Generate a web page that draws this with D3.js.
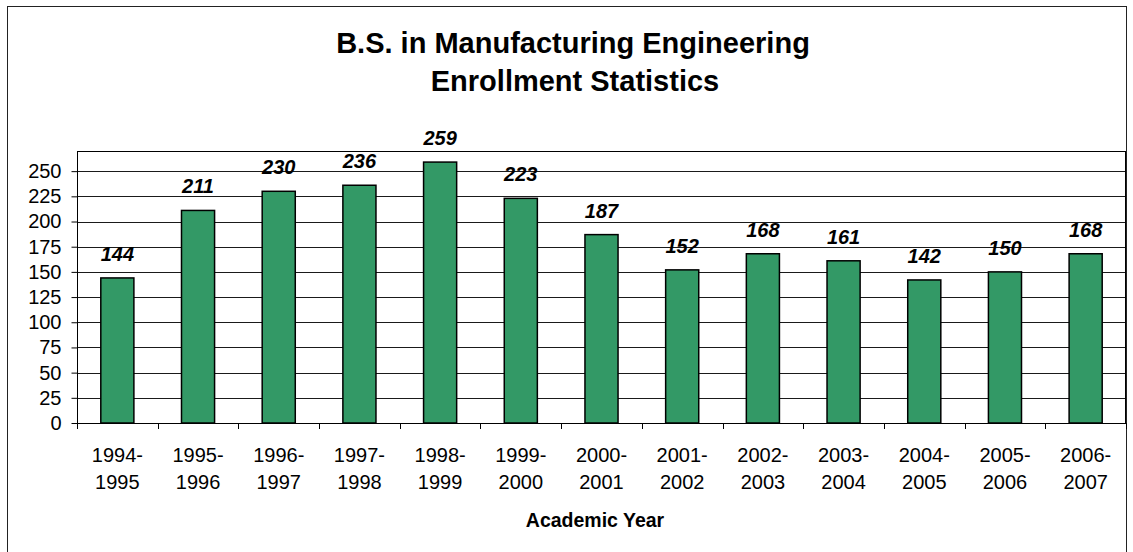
<!DOCTYPE html>
<html>
<head>
<meta charset="utf-8">
<script src="https://cdn.jsdelivr.net/npm/d3@7"></script>
<style>
  body { margin: 0; background: #fff; }
  text { font-family: "Liberation Sans", Arial, sans-serif; fill: #000; }
</style>
</head>
<body>
<div id="chart"></div>
<script>
// data
const years = ["1994-1995", "1995-1996", "1996-1997", "1997-1998", "1998-1999", "1999-2000",
  "2000-2001", "2001-2002", "2002-2003", "2003-2004", "2004-2005", "2005-2006", "2006-2007"];
const enrollment = [144, 211, 230, 236, 259, 223, 187, 152, 168, 161, 142, 150, 168];
const yTicks = [0, 25, 50, 75, 100, 125, 150, 175, 200, 225, 250];

function main() {
  const W = 1133, H = 552;
  const plot = {left: 77, right: 1126, top: 151, bottom: 423};

  const svg = d3.select("#chart")
    .append("svg")
    .attr("width", W)
    .attr("height", H);

  // outer chart border (bottom edge runs off the picture)
  svg.append("rect")
    .attr("x", 7.5).attr("y", 6.5)
    .attr("width", 1119).attr("height", 600)
    .attr("fill", "none")
    .attr("stroke", "#222");

  // title
  const title = svg.append("text")
    .attr("text-anchor", "middle")
    .attr("font-size", "29px")
    .attr("font-weight", "bold");
  title.append("tspan").attr("x", 573).attr("y", 53).text("B.S. in Manufacturing Engineering");
  title.append("tspan").attr("x", 575).attr("y", 91).text("Enrollment Statistics");

  const x = d3.scaleBand()
    .domain(years)
    .range([plot.left, plot.right])
    .paddingInner(0.59)
    .paddingOuter(0.295);

  const y = d3.scaleLinear()
    .domain([0, 270])
    .range([plot.bottom, plot.top]);

  // gridlines
  svg.append("g")
    .selectAll("line")
    .data(yTicks.filter(d => d > 0))
    .enter()
    .append("line")
    .attr("x1", plot.left).attr("x2", plot.right)
    .attr("y1", d => Math.round(y(d)) + 0.5)
    .attr("y2", d => Math.round(y(d)) + 0.5)
    .attr("stroke", "#1a1a1a")
    .attr("stroke-width", 1);

  // plot area frame
  svg.append("rect")
    .attr("x", plot.left + 0.5).attr("y", plot.top + 0.5)
    .attr("width", plot.right - plot.left - 1)
    .attr("height", plot.bottom - plot.top)
    .attr("fill", "none")
    .attr("stroke", "#000");

  // bars
  svg.append("g")
    .selectAll("rect")
    .data(enrollment)
    .enter()
    .append("rect")
    .attr("x", (d, i) => x(years[i]))
    .attr("y", d => y(d))
    .attr("width", x.bandwidth())
    .attr("height", d => y(0) - y(d))
    .attr("fill", "#339966")
    .attr("stroke", "#000")
    .attr("stroke-width", 1.5);

  // value labels
  svg.append("g")
    .selectAll("text")
    .data(enrollment)
    .enter()
    .append("text")
    .attr("x", (d, i) => x(years[i]) + x.bandwidth() / 2)
    .attr("y", d => y(d) - 17)
    .attr("text-anchor", "middle")
    .attr("font-size", "20px")
    .attr("font-weight", "bold")
    .attr("font-style", "italic")
    .text(d => d);

  // y axis
  const yAxis = svg.append("g")
    .attr("transform", `translate(${plot.left + 0.5},0)`)
    .call(d3.axisLeft(y).tickValues(yTicks).tickSize(6).tickPadding(10));
  yAxis.select(".domain").remove();
  yAxis.selectAll("line").attr("stroke", "#000");
  yAxis.selectAll("text")
    .attr("font-size", "20px")
    .attr("font-family", "Liberation Sans, Arial, sans-serif");

  // x axis: tick marks at category boundaries
  const xEdge = d3.scaleLinear().domain([0, years.length]).range([plot.left, plot.right]);
  svg.append("line")
    .attr("x1", plot.left).attr("x2", plot.right)
    .attr("y1", plot.bottom + 0.5).attr("y2", plot.bottom + 0.5)
    .attr("stroke", "#000");
  svg.append("g")
    .selectAll("line")
    .data(d3.range(years.length + 1))
    .enter()
    .append("line")
    .attr("x1", d => Math.round(xEdge(d)) + 0.5)
    .attr("x2", d => Math.round(xEdge(d)) + 0.5)
    .attr("y1", plot.bottom)
    .attr("y2", plot.bottom + 6)
    .attr("stroke", "#000");

  const xAxis = svg.append("g")
    .attr("transform", `translate(0,${plot.bottom})`)
    .call(d3.axisBottom(x).tickSize(0).tickFormat(""));
  xAxis.select(".domain").remove();
  xAxis.selectAll(".tick").append("text")
    .attr("text-anchor", "middle")
    .attr("font-size", "20px")
    .attr("font-family", "Liberation Sans, Arial, sans-serif")
    .attr("fill", "#000")
    .each(function (d) {
      const parts = d.split("-");
      const t = d3.select(this);
      t.append("tspan").attr("x", 0).attr("y", 39).text(parts[0] + "-");
      t.append("tspan").attr("x", 0).attr("y", 66).text(parts[1]);
    });

  // x axis title
  svg.append("text")
    .attr("x", 595)
    .attr("y", 527)
    .attr("text-anchor", "middle")
    .attr("font-size", "19.5px")
    .attr("font-weight", "bold")
    .text("Academic Year");
}

main()
</script>
</body>
</html>
